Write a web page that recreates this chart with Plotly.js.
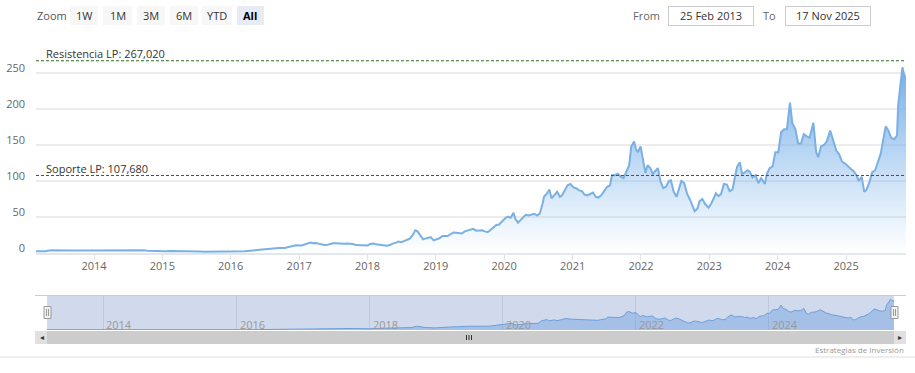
<!DOCTYPE html>
<html><head><meta charset="utf-8">
<script src="https://cdn.plot.ly/plotly-3.0.1.min.js"></script>
<style>html,body{margin:0;padding:0;background:#fff;}#chart{width:915px;height:373px;}</style>
</head><body><div id="chart"></div>
<script>
// ---------- DATA ----------
const dates = [
"2013-02-25","2013-03-15","2013-04-15","2013-05-15","2013-06-15","2013-07-15","2013-08-15","2013-09-15","2013-10-15","2013-11-15","2013-12-15",
"2014-01-15","2014-02-15","2014-03-15","2014-04-15","2014-05-15","2014-06-15","2014-07-15","2014-08-15","2014-09-15","2014-10-15","2014-11-15","2014-12-15",
"2015-01-15","2015-02-15","2015-03-15","2015-04-15","2015-05-15","2015-06-15","2015-07-15","2015-08-15","2015-09-15","2015-10-15","2015-11-15","2015-12-15",
"2016-01-15","2016-02-15","2016-03-15","2016-04-15","2016-05-15","2016-06-15","2016-07-15","2016-08-15","2016-09-15","2016-10-15","2016-11-15","2016-12-15",
"2017-01-15","2017-02-01","2017-02-15","2017-03-01","2017-03-15","2017-04-01","2017-04-15","2017-05-01","2017-05-15","2017-06-01","2017-06-15","2017-07-01","2017-07-15","2017-08-01","2017-08-15","2017-09-01","2017-09-15","2017-10-01","2017-10-15","2017-11-01","2017-11-15","2017-12-01","2017-12-15",
"2018-01-01","2018-01-15","2018-02-01","2018-02-15","2018-03-01","2018-03-15","2018-04-01","2018-04-15","2018-05-01","2018-05-15","2018-06-01","2018-06-15","2018-07-01","2018-07-15","2018-08-01","2018-08-15","2018-09-01","2018-09-13","2018-09-25","2018-10-10","2018-10-25","2018-11-05","2018-11-20","2018-12-05","2018-12-20",
"2019-01-05","2019-01-20","2019-02-05","2019-02-20","2019-03-05","2019-03-20","2019-04-05","2019-04-20","2019-05-05","2019-05-20","2019-06-05","2019-06-20","2019-07-05","2019-07-20","2019-08-05","2019-08-20","2019-09-05","2019-09-20","2019-10-05","2019-10-20","2019-11-05","2019-11-20","2019-12-05","2019-12-20",
"2020-01-05","2020-01-20","2020-02-05","2020-02-20","2020-03-01","2020-03-15","2020-03-25","2020-04-10","2020-04-25","2020-05-10","2020-05-25","2020-06-10","2020-06-25","2020-07-10","2020-07-25","2020-08-01","2020-08-15","2020-08-30","2020-09-10","2020-09-25","2020-10-10","2020-10-25","2020-11-05","2020-11-20","2020-12-05","2020-12-20",
"2021-01-05","2021-01-20","2021-02-05","2021-02-20","2021-03-05","2021-03-20","2021-04-05","2021-04-20","2021-05-05","2021-05-20","2021-06-05","2021-06-20","2021-07-05","2021-07-20","2021-07-30","2021-08-15","2021-08-30","2021-09-15","2021-09-30","2021-10-15","2021-10-30","2021-11-10","2021-11-25","2021-12-05","2021-12-15","2021-12-30",
"2022-01-10","2022-01-25","2022-02-05","2022-02-20","2022-03-05","2022-03-20","2022-04-01","2022-04-15","2022-04-30","2022-05-15","2022-05-30","2022-06-10","2022-06-25","2022-07-10","2022-07-25","2022-08-05","2022-08-20","2022-09-05","2022-09-20","2022-10-05","2022-10-15","2022-10-30","2022-11-10","2022-11-25","2022-12-10","2022-12-28",
"2023-01-10","2023-01-25","2023-02-05","2023-02-20","2023-03-05","2023-03-20","2023-04-05","2023-04-20","2023-05-05","2023-05-20","2023-05-30","2023-06-13","2023-06-25","2023-07-10","2023-07-25","2023-08-05","2023-08-20","2023-09-05","2023-09-20","2023-10-05","2023-10-25","2023-11-05","2023-11-20","2023-12-05","2023-12-20",
"2024-01-05","2024-01-20","2024-02-05","2024-02-20","2024-03-07","2024-03-20","2024-04-05","2024-04-20","2024-05-05","2024-05-20","2024-06-05","2024-06-20","2024-07-10","2024-07-25","2024-08-05","2024-08-20","2024-09-05","2024-09-20","2024-10-08","2024-10-25","2024-11-10","2024-11-25","2024-12-10","2024-12-28",
"2025-01-10","2025-01-25","2025-02-10","2025-02-25","2025-03-10","2025-03-25","2025-04-08","2025-04-20","2025-05-05","2025-05-20","2025-06-05","2025-06-20","2025-07-05","2025-07-20","2025-08-01","2025-08-15","2025-08-30","2025-09-15","2025-09-30","2025-10-06","2025-10-15","2025-10-29","2025-11-05","2025-11-17"
];
const prices = [
2.5,2.6,2.3,3.8,4.0,4.2,3.6,3.6,3.3,3.4,3.7,
3.6,3.7,3.9,4.0,3.9,4.0,4.1,4.2,3.8,3.2,2.8,2.7,
2.6,2.9,2.9,2.4,2.3,2.3,2.0,1.8,1.8,2.0,2.2,2.6,
2.3,2.0,2.6,3.2,4.0,4.6,5.5,7.0,6.8,7.0,8.5,10.8,
10.5,12.0,13.5,14.5,13.5,14.0,13.0,12.0,11.0,11.5,12.8,13.5,13.7,13.2,12.8,13.0,13.2,13.0,12.5,11.0,10.8,10.5,10.2,
10.5,12.5,13.0,12.0,11.5,11.0,10.0,10.2,11.0,13.0,14.0,16.0,15.0,16.5,18.5,20.0,25.5,31.5,30.0,24.0,19.0,20.0,20.5,22.0,17.5,
18.5,20.5,23.5,23.5,23.5,26.0,28.5,28.0,28.0,27.0,30.0,31.0,31.5,33.5,31.0,31.5,31.5,30.0,29.0,32.0,36.0,39.0,39.5,44.0,
48.0,50.5,49.0,56.0,47.5,42.0,45.0,49.0,53.0,52.0,53.5,54.5,52.0,55.0,69.0,78.0,82.0,88.0,76.0,80.0,85.0,78.0,80.0,87.0,94.0,96.0,
91.0,90.0,87.0,86.0,81.0,80.0,82.0,84.0,78.0,77.0,81.0,86.0,92.0,94.0,108.0,108.0,110.0,106.0,104.0,113.0,122.0,148.0,155.0,145.0,140.0,148.0,
130.0,111.0,122.0,118.0,110.0,115.0,118.0,100.0,90.0,92.0,100.0,101.0,85.0,78.0,90.0,100.0,97.0,82.0,74.0,64.0,58.0,62.0,72.0,75.0,68.0,63.0,
68.0,76.0,83.0,79.0,82.0,96.0,95.0,86.0,88.0,108.0,120.0,126.0,110.0,112.0,115.0,113.0,105.0,108.0,97.0,104.0,96.0,110.0,118.0,120.0,140.0,
140.0,168.0,172.0,172.0,209.0,180.0,172.0,152.0,152.0,165.0,162.0,160.0,181.0,140.0,133.0,148.0,150.0,155.0,170.0,155.0,142.0,137.0,127.0,124.0,
120.0,117.0,114.0,108.0,100.0,106.0,85.0,88.0,98.0,112.0,115.0,127.0,138.0,160.0,176.0,170.0,160.0,158.0,163.0,205.0,230.0,258.0,250.0,241.0
];
const resistencia = 267.02;
const soporte = 107.68;
const resistenciaLabel = "Resistencia LP: 267,020";
const soporteLabel = "Soporte LP: 107,680";
const yTickVals = [0, 50, 100, 150, 200, 250, 300];
const yTickText = ["0", "50", "100", "150", "200", "250", ""];
const navigatorYears = ["2014", "2016", "2018", "2020", "2022", "2024"];
const zoomButtons = ["1W", "1M", "3M", "6M", "YTD", "All"];
const activeButton = "All";
const fromText = "25 Feb 2013";
const toText = "17 Nov 2025";
const credits = "Estrategias de Inversión";

// ---------- STYLE / LAYOUT HELPERS ----------
const W = 915, H = 373;
const px = v => v / W;
const py = v => 1 - v / H;
const FONT = "Open Sans, sans-serif";
const btnBoxes = [[70,98],[103,132],[137,165],[170,198],[202,232],[237,264]];

const shapes = [];
const annotations = [];

// navigator mask (below gridlines)
shapes.push({type:"rect", xref:"x2 domain", yref:"y2 domain", x0:0, x1:1, y0:0, y1:1,
  fillcolor:"rgba(102,133,194,0.3)", line:{width:0}, layer:"below"});

// support / resistance lines
shapes.push({type:"line", xref:"x domain", x0:0, x1:1, yref:"y", y0:resistencia, y1:resistencia,
  line:{color:"#2f6b1f", width:1, dash:"3px,2px"}});
shapes.push({type:"line", xref:"x domain", x0:0, x1:1, yref:"y", y0:soporte, y1:soporte,
  line:{color:"#c41a1a", width:1, dash:"3px,2px"}});
annotations.push({xref:"paper", x:px(44), xanchor:"left", yref:"y", y:resistencia, yanchor:"middle", yshift:7,
  text:resistenciaLabel, showarrow:false, font:{family:FONT, size:11, color:"#333"}});
annotations.push({xref:"paper", x:px(44), xanchor:"left", yref:"y", y:soporte, yanchor:"middle", yshift:7,
  text:soporteLabel, showarrow:false, font:{family:FONT, size:11, color:"#333"}});

// zoom buttons
annotations.push({xref:"paper", yref:"paper", x:px(35), y:py(15.5), xanchor:"left", yanchor:"middle",
  text:"Zoom", showarrow:false, font:{family:FONT, size:11, color:"#555"}});
zoomButtons.forEach((b, i) => {
  const [x0, x1] = btnBoxes[i];
  const act = b === activeButton;
  shapes.push({type:"rect", xref:"paper", yref:"paper", x0:px(x0), x1:px(x1), y0:py(25), y1:py(6),
    fillcolor: act ? "#e6ebf5" : "#f7f7f7", line:{width:0}});
  annotations.push({xref:"paper", yref:"paper", x:px((x0+x1)/2), y:py(15.5), xanchor:"center", yanchor:"middle",
    text: act ? "<b>" + b + "</b>" : b, showarrow:false, font:{family:FONT, size:11, color: act ? "#000" : "#333"}});
});

// From / To inputs
annotations.push({xref:"paper", yref:"paper", x:px(662), y:py(15.5), xanchor:"right", yanchor:"middle",
  text:"From", showarrow:false, font:{family:FONT, size:11, color:"#666"}});
shapes.push({type:"rect", xref:"paper", yref:"paper", x0:px(668.5), x1:px(753.5), y0:py(25.5), y1:py(6.5),
  fillcolor:"#fff", line:{color:"#cccccc", width:1}});
annotations.push({xref:"paper", yref:"paper", x:px(711), y:py(15.5), xanchor:"center", yanchor:"middle",
  text:fromText, showarrow:false, font:{family:FONT, size:11, color:"#333"}});
annotations.push({xref:"paper", yref:"paper", x:px(778), y:py(15.5), xanchor:"right", yanchor:"middle",
  text:"To", showarrow:false, font:{family:FONT, size:11, color:"#666"}});
shapes.push({type:"rect", xref:"paper", yref:"paper", x0:px(785.5), x1:px(870.5), y0:py(25.5), y1:py(6.5),
  fillcolor:"#fff", line:{color:"#cccccc", width:1}});
annotations.push({xref:"paper", yref:"paper", x:px(828), y:py(15.5), xanchor:"center", yanchor:"middle",
  text:toText, showarrow:false, font:{family:FONT, size:11, color:"#333"}});

// navigator outline
shapes.push({type:"line", xref:"paper", yref:"paper", x0:px(35), x1:px(906), y0:py(295.5), y1:py(295.5),
  line:{color:"#cccccc", width:1}});
// navigator year labels
navigatorYears.forEach(yr => annotations.push({xref:"x2", yref:"paper", x:yr + "-01-01", xanchor:"left", xshift:1,
  y:py(324), yanchor:"middle", text:yr, showarrow:false, font:{family:FONT, size:11, color:"#999"}}));
// scrollbar
shapes.push({type:"rect", xref:"paper", yref:"paper", x0:px(35), x1:px(906), y0:py(344), y1:py(331),
  fillcolor:"#cccccc", line:{width:0}});
shapes.push({type:"rect", xref:"paper", yref:"paper", x0:px(35), x1:px(47), y0:py(344), y1:py(331),
  fillcolor:"#e0e0e0", line:{width:0}});
shapes.push({type:"rect", xref:"paper", yref:"paper", x0:px(894), x1:px(906), y0:py(344), y1:py(331),
  fillcolor:"#e0e0e0", line:{width:0}});
[466.5, 469, 471.5].forEach(lx => shapes.push({type:"line", xref:"paper", yref:"paper", x0:px(lx), x1:px(lx),
  y0:py(340), y1:py(335), line:{color:"#333", width:1}}));
annotations.push({xref:"paper", yref:"paper", x:px(41.5), y:py(337.5), xanchor:"center", yanchor:"middle",
  text:"◂", showarrow:false, font:{family:"DejaVu Sans", size:8, color:"#333"}});
annotations.push({xref:"paper", yref:"paper", x:px(900), y:py(337.5), xanchor:"center", yanchor:"middle",
  text:"▸", showarrow:false, font:{family:"DejaVu Sans", size:8, color:"#333"}});
// handles (drawn last, on top)
[47.5, 894.5].forEach(cx => {
  shapes.push({type:"rect", xref:"paper", yref:"paper", x0:px(cx-3.5), x1:px(cx+3.5), y0:py(318.5), y1:py(306.5),
    fillcolor:"#f2f2f2", line:{color:"#999999", width:1}});
  [cx-1, cx+1].forEach(lx => shapes.push({type:"line", xref:"paper", yref:"paper", x0:px(lx), x1:px(lx),
    y0:py(316), y1:py(309), line:{color:"#999999", width:1}}));
});
// bottom separator & credits
shapes.push({type:"line", xref:"paper", yref:"paper", x0:0, x1:1, y0:py(357), y1:py(357),
  line:{color:"#dddddd", width:1}});
annotations.push({xref:"paper", yref:"paper", x:px(906), y:py(349), xanchor:"right", yanchor:"middle",
  text:credits, showarrow:false, font:{family:FONT, size:8, color:"#999"}});

const maxPrice = Math.max(...prices);

const traces = [
  {type:"scatter", mode:"lines", x:dates, y:prices, xaxis:"x", yaxis:"y",
   line:{color:"#7ab0e4", width:2},
   fill:"tozeroy",
   fillgradient:{type:"vertical", start:0, stop:maxPrice,
     colorscale:[[0,"rgba(124,181,236,0)"],[1,"rgba(112,170,230,0.95)"]]},
   hoverinfo:"x+y"},
  {type:"scatter", mode:"lines", x:dates, y:prices, xaxis:"x2", yaxis:"y2",
   line:{color:"#6c9fd9", width:1},
   fill:"tozeroy", fillcolor:"rgba(110,160,225,0.45)", hoverinfo:"skip"}
];

const layout = {
  width:W, height:H, margin:{l:0, r:0, t:0, b:0},
  paper_bgcolor:"#fff", plot_bgcolor:"rgba(0,0,0,0)",
  showlegend:false, font:{family:FONT, size:11, color:"#666"},
  xaxis:{domain:[px(36), px(906)], anchor:"y", type:"date", range:[dates[0], dates[dates.length-1]],
    tickformat:"%Y", dtick:"M12", tick0:"2014-01-01", ticks:"outside", ticklen:5, tickcolor:"#dfe3ea",
    ticklabelstandoff:-3,
    showline:true, linecolor:"#e3e6ec", linewidth:2, showgrid:false, zeroline:false,
    tickfont:{family:FONT, size:11, color:"#666"}, fixedrange:true, automargin:false},
  yaxis:{domain:[py(253), py(37)], anchor:"x", range:[0, 300], tickvals:yTickVals, ticktext:yTickText,
    showgrid:true, gridcolor:"#ececec", gridwidth:1.5, zeroline:false, showline:false, ticks:"",
    ticklabelstandoff:10, ticklabelshift:-5,
    tickfont:{family:FONT, size:11, color:"#666"}, fixedrange:true, automargin:false},
  xaxis2:{domain:[px(47), px(894)], anchor:"y2", type:"date", range:[dates[0], dates[dates.length-1]],
    dtick:"M24", tick0:"2014-01-01", ticks:"", showgrid:true, gridcolor:"#c0c8dc", showticklabels:false,
    showline:false, zeroline:false, fixedrange:true, automargin:false},
  yaxis2:{domain:[py(330), py(296)], anchor:"x2", range:[0, 285], visible:false, fixedrange:true},
  shapes:shapes, annotations:annotations
};

Plotly.newPlot("chart", traces, layout, {displayModeBar:false, responsive:false});
</script></body></html>
